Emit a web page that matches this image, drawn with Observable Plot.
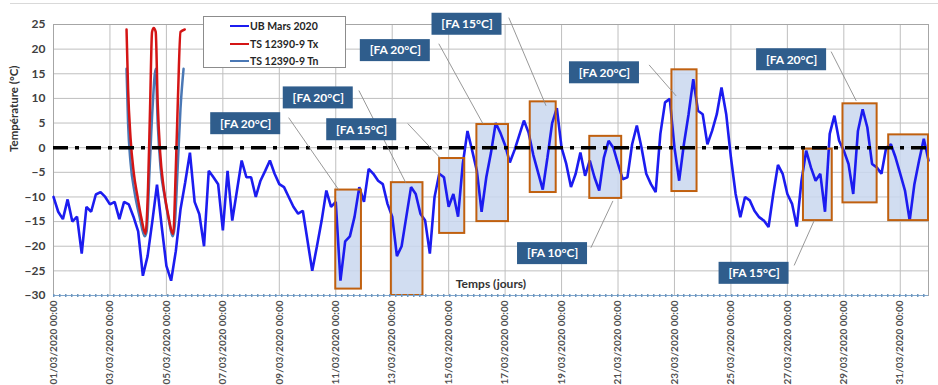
<!DOCTYPE html>
<html><head><meta charset="utf-8">
<script src="https://cdn.jsdelivr.net/npm/d3@7"></script>
<script src="https://cdn.jsdelivr.net/npm/@observablehq/plot@0.6"></script>
<style>
html,body{margin:0;padding:0;background:#fff;}
#wrap{position:relative;width:938px;height:385px;font-family:Lato,"Open Sans",sans-serif;}
#topline{position:absolute;left:10px;right:0;top:3px;border-top:1px solid #d9d9d9;}
#legend{position:absolute;left:203px;top:16px;width:143px;height:52px;border:1px solid #8c8c8c;background:#fff;box-sizing:border-box;}
.li{position:absolute;left:26px;height:14px;display:flex;align-items:center;font-size:10.5px;font-weight:bold;color:#262626;white-space:nowrap;}
.sw{width:19px;height:2.5px;margin-right:1px;}
</style></head>
<body><div id="wrap"><div id="topline"></div><div id="chart"></div><div id="legend"></div></div>
<script>
// ---------- data ----------
const seriesNames = ["UB Mars 2020", "TS 12390-9 Tx", "TS 12390-9 Tn"];
const seriesColors = ["#1c1cf0", "#d41515", "#4a78b5"];

// UB Mars 2020 : temperature every 4 h from 01/03/2020 00:00
const ubStepHours = 4;
const ubValues = [
 -10,-13,-14.5,-10.5,-15,-14, -21.5,-12,-13,-9.5,-9,-10,
 -11.5,-11,-14.5,-11,-11.5,-14, -17,-26,-22,-15,-7.5,-16,
 -24,-27,-21,-12.5,-7,-1, -11,-13.5,-20,-4.7,-6,-7.4,
 -16.8,-4.7,-14.8,-8.7,-2.6,-6, -6,-10,-6.7,-4.7,-2.6,-5.3,
 -7.4,-8,-10,-12,-13.4,-12.8, -18.9,-25,-20,-14.8,-8.7,-12,
 -11,-27,-19,-18,-14,-8, -11,-4.3,-5.3,-6.7,-7.4,-11.4,
 -14,-22,-20,-14,-8,-9.4, -13.4,-14.8,-21.5,-10,-5.3,-6,
 -12,-9.4,-14,-3.3,3.4,-0.6, -4.7,-13,-6,-1,5,3,
 0.5,-3,-0.5,2.5,5.5,3, -1.5,-5,-8.5,-2,5,8,
 0,-3.3,-8,-5.3,-1,-5.7, -2.6,-6,-8.7,-2,1.4,0,
 -3.3,-6.4,-6,0.7,4.5,0, -5.3,-7.4,-9,2.8,9.2,9.9,
 0,-6.7,0.7,6.8,13.9,7.5, 6.8,0.7,3.4,6.8,12.2,6.8,
 -2,-9.4,-14.1,-10,-10.7,-12.8, -14.1,-14.8,-16.1,-9.4,-3.5,-5.3,
 -9.4,-11.4,-16,-6.7,-0.6,-4, -6.7,-5.3,-13,2.8,6.5,1.4,
 -0.6,-3.3,-9.4,3.4,7.8,4.1, -3.3,-4,-5.3,0,0.7,-2,
 -5.3,-8.7,-14.8,-7.4,-2.6,1.8, -2.6
];

// TS 12390-9 cycles (hours from 01/03/2020 00:00)
const txHours  = [62.1,63.4,65.5,68.2,71.5,74.9,78.2,80.4,82.1,83.8,85.2,86.9,88.6,90.7,93.6,97.0,101.8,103.9,105.8,108.0,111.6];
const txValues = [24,12,2,-5,-10,-14.5,-17.5,-8,8,23.5,24.3,23.5,9,-1,-8,-13,-17.5,-5,10,23.5,24];
const tnHours  = [62.1,63.4,65.5,68.9,73.2,77.5,79.2,81.6,84.2,86.9,88.6,91.0,94.6,97.9,101.3,103.0,105.6,108.0,110.6];
const tnValues = [16,5,-3,-9,-14,-18,-17,-5,8,16,5,-4,-10,-14.5,-18,-16,-4,8,16];

// freeze-thaw windows (days from 01/03 00:00) and their temperature span
const winStartDay = [10.0,11.97,13.68,15.0,16.89,19.0,21.91,26.57,27.97,29.59];
const winEndDay   = [10.91,13.09,14.57,16.12,17.81,20.13,22.8,27.59,29.18,31.0];
const winMin      = [-28.7,-30,-17.4,-15,-9.1,-10.3,-8.9,-14.8,-11.2,-14.8];
const winMax      = [-8.6,-7.1,-2.2,4.7,9.3,2.3,15.8,-0.3,8.9,2.6];

// annotation callouts
const calloutText = ["[FA 20°C]","[FA 20°C]","[FA 15°C]","[FA 20°C]","[FA 15°C]","[FA 20°C]","[FA 20°C]","[FA 10°C]","[FA 15°C]"];
const calloutDay  = [6.81,9.38,10.92,12.11,14.65,19.52,26.15,17.68,24.82];
const calloutTemp = [4.87,10.1,3.65,19.7,25.05,15.2,17.85,-21.5,-25.5];
const leaderFrom  = [[8.33,6.1],[10.82,11.6],[12.55,4.9],[13.65,21.1],[16.13,26.4],[21.1,16.8],[27.55,19.5],[19.04,-20.3],[26.24,-23.9]];
const leaderTo    = [[10.1,-8.5],[12.48,-7.1],[13.72,-2.2],[15.21,4.9],[17.45,8.5],[22.06,10.5],[28.44,9.5],[19.82,-10.8],[26.95,-14.8]];

const yTicks = [-30,-25,-20,-15,-10,-5,0,5,10,15,20,25];
const xTickDays = [1,3,5,7,9,11,13,15,17,19,21,23,25,27,29,31];

// ---------- build ----------
const T0 = Date.UTC(2020, 2, 1);
const HOUR = 3600e3, DAY = 864e5;
const atDay = d => new Date(T0 + d * DAY);
const ub = ubValues.map((v, i) => ({t: new Date(T0 + i * ubStepHours * HOUR), v}));
const tx = txHours.map((h, i) => ({t: new Date(T0 + h * HOUR), v: txValues[i]}));
const tn = tnHours.map((h, i) => ({t: new Date(T0 + h * HOUR), v: tnValues[i]}));
const wins = winStartDay.map((s, i) => ({x1: atDay(s), x2: atDay(winEndDay[i]), y1: winMin[i], y2: winMax[i]}));
const callouts = calloutText.map((s, i) => ({text: s, x: atDay(calloutDay[i]), y: calloutTemp[i],
  lx1: atDay(leaderFrom[i][0]), ly1: leaderFrom[i][1], lx2: atDay(leaderTo[i][0]), ly2: leaderTo[i][1]}));
const xTicks = xTickDays.map(d => new Date(Date.UTC(2020, 2, d)));
const fmt = d3.utcFormat("%d/%m/%Y %H:%M");

const chart = Plot.plot({
  width: 938, height: 385,
  marginLeft: 53, marginRight: 10, marginTop: 24, marginBottom: 90,
  style: {fontFamily: "Lato, 'Open Sans', sans-serif", background: "#fff", overflow: "visible"},
  x: {type: "utc", domain: [new Date(T0), atDay(31)]},
  y: {domain: [-30, 25]},
  marks: [
    Plot.gridY(yTicks, {stroke: "#bfbfbf", strokeOpacity: 1}),
    Plot.gridX(xTicks, {stroke: "#bfbfbf", strokeOpacity: 1}),
    Plot.frame({stroke: "#a6a6a6"}),
    Plot.axisY(yTicks, {tickSize: 0, tickPadding: 8, fontSize: 12, fontWeight: "bold", fill: "#404040", label: null}),
    Plot.axisX(xTicks, {tickSize: 0, tickPadding: 5, tickRotate: -90, tickFormat: fmt, fontSize: 10, fontWeight: "bold", fill: "#505050", label: null}),
    Plot.text(["Température (°C)"], {frameAnchor: "left", rotate: -90, dx: -39, dy: -8, fontSize: 11.5, fontWeight: "bold", fill: "#333"}),
    Plot.rect(wins, {x1: "x1", x2: "x2", y1: "y1", y2: "y2", fill: "#c9d7ee", fillOpacity: 0.85}),
    Plot.line(ub, {x: "t", y: "v", stroke: seriesColors[0], strokeWidth: 2.6, strokeLinejoin: "miter"}),
    Plot.line(tn, {x: "t", y: "v", stroke: seriesColors[2], strokeWidth: 2.5, curve: "monotone-x"}),
    Plot.line(tx, {x: "t", y: "v", stroke: seriesColors[1], strokeWidth: 2.5, curve: "monotone-x"}),
    Plot.rect(wins, {x1: "x1", x2: "x2", y1: "y1", y2: "y2", fill: "none", stroke: "#c0600f", strokeWidth: 2}),
    Plot.ruleY([0], {stroke: "black", strokeWidth: 3.5, strokeDasharray: "15,7,4,7"}),
    Plot.ruleY([-30], {stroke: "#7fa6cc", strokeWidth: 1.2}),
    Plot.ruleY([-30], {stroke: "#6f97c0", strokeWidth: 3, strokeDasharray: "1.5,4.5"}),
    Plot.text(["Temps (jours)"], {frameAnchor: "bottom", lineAnchor: "middle", dy: -11, fontSize: 12, fontWeight: "bold", fill: "#333"}),
    Plot.link(callouts, {x1: "lx1", y1: "ly1", x2: "lx2", y2: "ly2", stroke: "#8c8c8c", strokeWidth: 0.9}),
    Plot.rect(callouts, {x1: "x", x2: "x", y1: "y", y2: "y", insetLeft: -35, insetRight: -35, insetTop: -11, insetBottom: -11, fill: "#2f5d8c"}),
    Plot.text(callouts, {x: "x", y: "y", text: "text", fill: "white", fontSize: 12, fontWeight: "bold"})
  ]
});
document.getElementById("chart").appendChild(chart);

// legend (inside the plot area, as in the original)
const leg = document.getElementById("legend");
const rowTop = [2, 20, 37];
seriesNames.forEach((name, i) => {
  const row = document.createElement("div");
  row.className = "li";
  row.style.top = rowTop[i] + "px";
  const sw = document.createElement("span");
  sw.className = "sw";
  sw.style.background = seriesColors[i];
  row.appendChild(sw);
  row.appendChild(document.createTextNode(name));
  leg.appendChild(row);
});
</script></body></html>
